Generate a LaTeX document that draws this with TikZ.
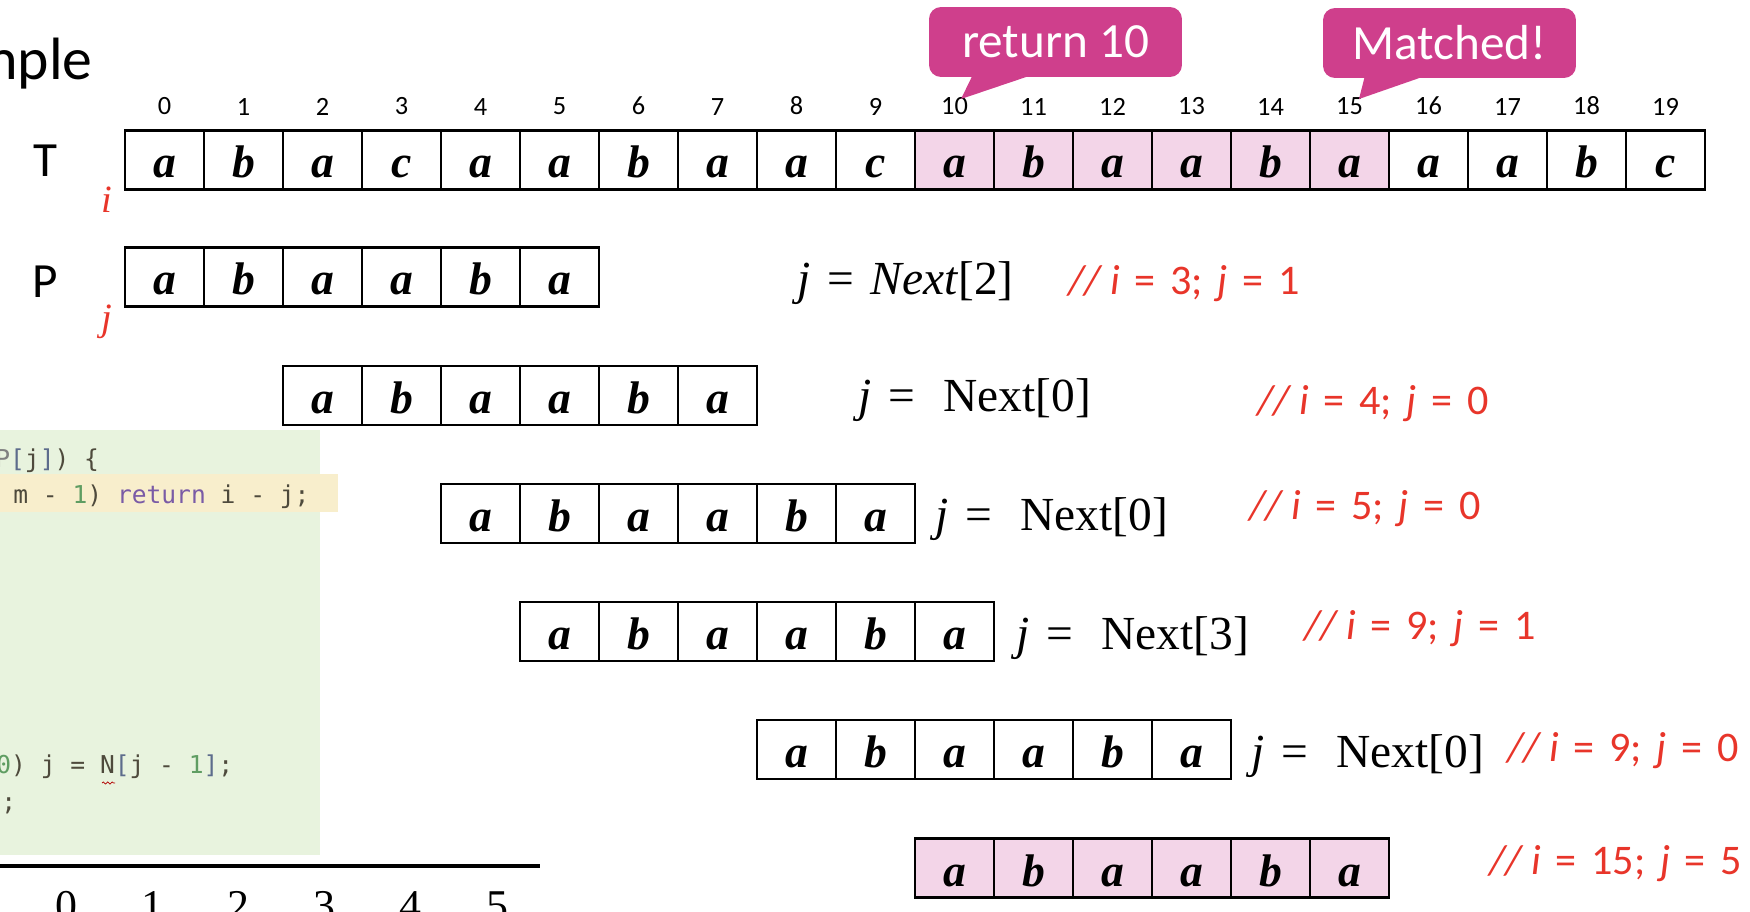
\documentclass[tikz,border=0pt]{standalone}
\usepackage{fontspec}
\setmainfont{Liberation Serif}
\newfontfamily\calfont{Carlito}
\newfontfamily\codefont{DejaVu Sans Mono}
\usetikzlibrary{positioning, calc, decorations.pathmorphing}
\definecolor{bubblemag}{HTML}{CF3F8C}
\definecolor{matchpink}{HTML}{F3D5E8}
\definecolor{commentred}{HTML}{E8352A}
\definecolor{panelgreen}{HTML}{E8F3DE}
\definecolor{linehl}{HTML}{F8EECC}
\definecolor{codeplain}{HTML}{4E4A3C}
\definecolor{codekw}{HTML}{7A5BA6}
\definecolor{codenum}{HTML}{5F9D62}
\definecolor{codebr}{HTML}{5D6C8C}
\newcommand{\wsp}{\hspace{0.35em}}

\begin{document}
\begin{tikzpicture}[x=0.02cm, y=-0.02cm]
	\tikzset{
		cell/.style={
			draw,
			line width=1.3pt,
			minimum width=1.58cm,
			minimum height=1.18cm,
			inner sep=0pt,
			outer sep=0pt,
			text height=0.72cm,
			text depth=0pt,
			font=\fontsize{26}{26}\selectfont\bfseries\itshape
		},
		hit/.style={cell, fill=matchpink},
		idx/.style={font=\calfont\fontsize{15}{15}\selectfont, inner sep=0pt},
		rowname/.style={font=\calfont\fontsize{28}{28}\selectfont},
		ptr/.style={text=commentred, font=\fontsize{22}{22}\selectfont\itshape},
		nextlbl/.style={anchor=west, inner sep=0pt, font=\fontsize{27}{27}\selectfont},
		note/.style={anchor=west, inner sep=0pt, text=commentred, font=\calfont\fontsize{24}{24}\selectfont},
		bubble/.style={
			fill=bubblemag,
			text=white,
			rounded corners=0.24cm,
			minimum width=5.06cm,
			minimum height=1.4cm,
			font=\calfont\fontsize{28}{28}\selectfont
		},
		code/.style={anchor=base west, inner sep=0pt, text=codeplain, font=\codefont\fontsize{14}{14}\selectfont},
	}
	\useasboundingbox (0,0) rectangle (1750,912);
	\clip (0,0) rectangle (1750,912);

	% code screenshot
	\fill[panelgreen] (0,430) rectangle (320,855);
	\fill[linehl] (0,474) rectangle (338,512);
	\node[code] (c1) at (-5,467) {\textcolor{gray}{P}\textcolor{codebr}{[}j\textcolor{codebr}{]}) \{};
	\node[code] (c2) at (13,503) {m - \textcolor{codenum}{1}) \textcolor{codekw}{return} i - j;};
	\node[code] (c3) at (-4,773) {\textcolor{codenum}{0}) j = N\textcolor{codebr}{[}j - \textcolor{codenum}{1}\textcolor{codebr}{]};};
	\node[code] (c4) at (1,810) {;};
	\draw[red!70!black, line width=0.4pt, decorate, decoration={snake, amplitude=0.6pt, segment length=2.5pt}] (102,783) -- (115,783);

	\draw[line width=2.3pt] (0,866) -- (540,866);
	\foreach \n in {0,...,5}
		\node[anchor=north, inner sep=0pt, font=\fontsize{25}{25}\selectfont] (b\n) at (66+86.2*\n,891) {\n};

	\node[anchor=base east, inner sep=0pt, font=\calfont\fontsize{34}{34}\selectfont] (title) at (93,80) {Example};

	% text T
	\node[rowname] (T) at (45,161) {T};
	\node[rowname] (P) at (45,282) {P};
	\node[ptr] (i) at (107,200) {i};
	\node[ptr] (j) at (107,322) {j};

	\foreach \ch/\st [count=\k from 0] in {a/cell,b/cell,a/cell,c/cell,a/cell,a/cell,b/cell,a/cell,a/cell,c/cell,a/hit,b/hit,a/hit,a/hit,b/hit,a/hit,a/cell,a/cell,b/cell,c/cell} {
		\node[\st] (t\k) at (164.5+79*\k,160) {\ch};
		\node[idx, above=0.3cm of t\k] (n\k) {\k};
	}

	% pattern shifts
	\foreach \r/\s/\st in {1/0/cell,2/2/cell,3/4/cell,4/5/cell,5/8/cell,6/10/hit} {
		\foreach \ch [count=\k from 0] in {a,b,a,a,b,a}
			\node[\st] (r\r-\k) at (164.5+79*\s+79*\k,277+118.2*\r-118.2) {\ch};
	}

	\node[nextlbl] (s1) at (797,283) {\textit{j}\wsp=\wsp\textit{Next}[2]};
	\node[nextlbl] (s2) at (858,400) {\textit{j}\wsp=\wsp\ Next[0]};
	\node[nextlbl] (s3) at (935,519) {\textit{j}\wsp=\wsp\ Next[0]};
	\node[nextlbl] (s4) at (1016,638) {\textit{j}\wsp=\wsp\ Next[3]};
	\node[nextlbl] (s5) at (1251,756) {\textit{j}\wsp=\wsp\ Next[0]};

	\node[note] (m1) at (1068,284) {\textit{//}\,\textit{i}\wsp=\wsp3;\wsp\textit{j}\wsp=\wsp1};
	\node[note] (m2) at (1257,404) {\textit{//}\,\textit{i}\wsp=\wsp4;\wsp\textit{j}\wsp=\wsp0};
	\node[note] (m3) at (1249,509) {\textit{//}\,\textit{i}\wsp=\wsp5;\wsp\textit{j}\wsp=\wsp0};
	\node[note] (m4) at (1304,629) {\textit{//}\,\textit{i}\wsp=\wsp9;\wsp\textit{j}\wsp=\wsp1};
	\node[note] (m5) at (1507,751) {\textit{//}\,\textit{i}\wsp=\wsp9;\wsp\textit{j}\wsp=\wsp0};
	\node[note] (m6) at (1489,864) {\textit{//}\,\textit{i}\wsp=\wsp15;\wsp\textit{j}\wsp=\wsp5};

	% callouts
	\node[bubble] (ret) at (1055.5,42) {return 10};
	\coordinate (rettip) at (961,99);
	\fill[bubblemag] ($(ret.south)+(-82.5,-3)$) -- (rettip) -- ($(ret.south)+(-21.5,-3)$) -- cycle;
	\node[bubble] (match) at (1449.5,43) {Matched!};
	\coordinate (matchtip) at (1359,99);
	\fill[bubblemag] ($(match.south)+(-84.5,-3)$) -- (matchtip) -- ($(match.south)+(-22.5,-3)$) -- cycle;
\end{tikzpicture}
\end{document}
